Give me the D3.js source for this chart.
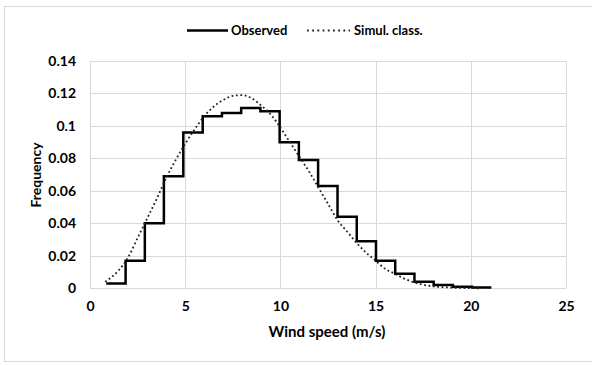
<!DOCTYPE html>
<html>
<head>
<meta charset="utf-8">
<script src="https://cdn.jsdelivr.net/npm/d3@7"></script>
<style>
  html, body { margin: 0; padding: 0; background: #fff; }
  svg { display: block; }
  text { font-family: Lato, "Open Sans", sans-serif; font-weight: bold; fill: #000; }
</style>
</head>
<body>
<svg id="chart" width="592" height="365"></svg>
<script>
// Observed histogram: bin edges (m/s) and relative frequency per bin
const binEdges = [0.85, 1.87, 2.88, 3.88, 4.9, 5.92, 6.93, 7.94, 8.95, 9.96, 10.97,
                  11.98, 13.0, 14.01, 15.02, 16.03, 17.04, 18.05, 19.06, 20.07, 21.08];
const observed = [0.003, 0.017, 0.040, 0.069, 0.096, 0.106, 0.108, 0.111, 0.109, 0.090,
                  0.079, 0.063, 0.044, 0.029, 0.017, 0.009, 0.004, 0.002, 0.001, 0.0005];

// Simulated distribution curve
const simSpeed = [0.8, 1.5, 2.0, 2.5, 3.0, 3.5, 4.0, 4.5, 5.0, 5.5, 6.0, 6.5, 7.0, 7.5, 8.0,
                  8.5, 9.0, 9.5, 10.0, 10.5, 11.0, 11.5, 12.0, 12.5, 13.0, 13.5, 14.0, 14.5,
                  15.0, 15.5, 16.0, 16.5, 17.0, 17.5, 18.0, 18.5, 19.0, 19.5, 20.0, 20.5];
const simFreq = [0.004, 0.011, 0.019, 0.031, 0.043, 0.055, 0.068, 0.079, 0.089, 0.098,
                 0.106, 0.112, 0.116, 0.1185, 0.119, 0.117, 0.1125, 0.107, 0.099, 0.090,
                 0.081, 0.072, 0.062, 0.052, 0.042, 0.035, 0.028, 0.022, 0.017, 0.012,
                 0.009, 0.006, 0.0037, 0.0022, 0.0012, 0.0007, 0.0004, 0.0002, 0.0001, 0.0];

const xTicks = [0, 5, 10, 15, 20, 25];
const yTicks = [0, 0.02, 0.04, 0.06, 0.08, 0.1, 0.12, 0.14];
const seriesNames = ["Observed", "Simul. class."];

const svg = d3.select("#chart");
const gridColor = "#d9d9d9";

// outer chart frame
svg.append("rect")
  .attr("x", 4.5).attr("y", 6.5).attr("width", 600).attr("height", 355)
  .attr("fill", "none").attr("stroke", gridColor).attr("stroke-width", 1);

const x = d3.scaleLinear().domain([0, 25]).range([90, 566]);
const y = d3.scaleLinear().domain([0, 0.14]).range([288.3, 61]);

// gridlines
svg.append("g").selectAll("line").data(yTicks).join("line")
  .attr("x1", x(0)).attr("x2", x(25))
  .attr("y1", d => Math.round(y(d)) + 0.5).attr("y2", d => Math.round(y(d)) + 0.5)
  .attr("stroke", gridColor).attr("stroke-width", 1);
svg.append("g").selectAll("line").data(xTicks).join("line")
  .attr("y1", y(0)).attr("y2", y(0.14))
  .attr("x1", d => Math.round(x(d)) + 0.5).attr("x2", d => Math.round(x(d)) + 0.5)
  .attr("stroke", gridColor).attr("stroke-width", 1);

// axes (labels only; lines are the gridlines)
const xAxis = svg.append("g")
  .attr("transform", `translate(0,${y(0)})`)
  .call(d3.axisBottom(x).tickValues(xTicks).tickSize(0).tickPadding(13).tickFormat(d3.format("d")));
xAxis.select(".domain").remove();
xAxis.selectAll("text").style("font-size", "14px").style("font-family", "Lato, sans-serif");

const yAxis = svg.append("g")
  .attr("transform", `translate(${x(0)},0)`)
  .call(d3.axisLeft(y).tickValues(yTicks).tickSize(0).tickPadding(14).tickFormat(d => d === 0 ? "0" : String(+d.toFixed(2))));
yAxis.select(".domain").remove();
yAxis.selectAll("text").style("font-size", "14px").style("font-family", "Lato, sans-serif");

// observed step line
const stepPts = observed.map((v, i) => [binEdges[i], v]);
stepPts.push([binEdges[binEdges.length - 1], observed[observed.length - 1]]);
const stepLine = d3.line().x(d => x(d[0])).y(d => y(d[1])).curve(d3.curveStepAfter);
svg.append("path")
  .datum(stepPts)
  .attr("d", stepLine)
  .attr("fill", "none").attr("stroke", "#000").attr("stroke-width", 2.5)
  .attr("stroke-linejoin", "miter");

// simulated curve (dotted)
const simLine = d3.line().x((d, i) => x(simSpeed[i])).y(d => y(d)).curve(d3.curveMonotoneX);
svg.append("path")
  .datum(simFreq)
  .attr("d", simLine)
  .attr("fill", "none").attr("stroke", "#222").attr("stroke-width", 1.8)
  .attr("stroke-dasharray", "1.8,2.6");

// axis titles
svg.append("text")
  .attr("x", 327).attr("y", 337)
  .attr("text-anchor", "middle").style("font-size", "15px")
  .text("Wind speed (m/s)");
svg.append("text")
  .attr("transform", "translate(41,175) rotate(-90)")
  .attr("text-anchor", "middle").style("font-size", "14px")
  .text("Frequency");

// legend
const legend = svg.append("g");
legend.append("line").attr("x1", 187).attr("x2", 228).attr("y1", 30.5).attr("y2", 30.5)
  .attr("stroke", "#000").attr("stroke-width", 2.5);
legend.append("text").attr("x", 231).attr("y", 35).style("font-size", "13px").text(seriesNames[0]);
legend.append("line").attr("x1", 307).attr("x2", 350).attr("y1", 30.5).attr("y2", 30.5)
  .attr("stroke", "#222").attr("stroke-width", 1.8).attr("stroke-dasharray", "1.8,3.4");
legend.append("text").attr("x", 354).attr("y", 35).style("font-size", "13px").text(seriesNames[1]);
</script>
</body>
</html>
